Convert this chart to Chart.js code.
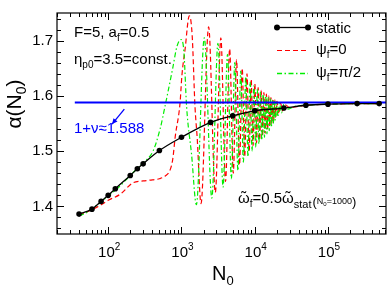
<!DOCTYPE html>
<html><head><meta charset="utf-8">
<script src="https://cdn.jsdelivr.net/npm/chart.js@4.4.1/dist/chart.umd.min.js"></script>
<style>html,body{margin:0;padding:0;background:#fff}#wrap{width:390px;height:290px;position:relative}</style>
</head><body><div id="wrap"><canvas id="c"></canvas></div>
<script>
// ---- data ----
const staticN = [40,60,80,100,125,200,250,300,500,1000,2500,5000,10000,25000,50000,100000,250000,500000];
const staticAlpha = [1.386,1.395,1.409,1.420,1.432,1.456,1.468,1.477,1.501,1.525,1.552,1.564,1.573,1.578,1.583,1.585,1.586,1.586];

const psi0N = [40,50,60,80,100,146,220,300,400,500,600,700,760,822,955,1016,1120,1280,1400,1530,1640,1850,
  2350,2900,3450,4000,4550,5100,5650,6200,6750,7300,7850,8400,8950,9500,10050,10600,11150,11700,12250,12800,
  13350,13900,14450,15000,15550,16100,16650,17200,17750,18300,18850,19400,20200,21200,22500,24000,26000,30000,
  40000,50000,100000,250000,500000];
const psi0Alpha = [1.385,1.389,1.394,1.403,1.411,1.422,1.443,1.446,1.448,1.450,1.455,1.466,1.485,1.526,1.586,1.638,1.684,1.745,1.710,1.581,1.524,1.405,
  1.725,1.425,1.705,1.445,1.685,1.460,1.665,1.475,1.650,1.490,1.640,1.500,1.630,1.510,1.622,1.515,1.615,1.520,1.610,1.527,
  1.606,1.532,1.603,1.538,1.600,1.545,1.597,1.550,1.595,1.556,1.593,1.562,1.590,1.567,1.587,1.573,1.584,1.579,
  1.581,1.583,1.585,1.586,1.586];

const psiHalfPiN = [40,50,60,80,100,130,200,250,300,409,513,596,760,870,986,1080,1175,1372,1600,
  2050,2600,3150,3700,4250,4800,5350,5900,6450,7000,7550,8100,8650,9200,9750,10300,10850,11400,11950,12500,
  13050,13600,14150,14700,15250,15800,16350,16900,17450,18000,18550,19100,19800,20700,21800,23200,25000,28000,
  35000,50000,100000,250000,500000];
const psiHalfPiAlpha = [1.383,1.388,1.395,1.408,1.419,1.431,1.456,1.469,1.479,1.500,1.541,1.581,1.650,1.690,1.702,1.680,1.581,1.495,1.403,
  1.705,1.415,1.695,1.435,1.675,1.450,1.660,1.465,1.645,1.480,1.635,1.490,1.625,1.500,1.618,1.507,1.612,1.513,1.607,1.520,
  1.603,1.525,1.600,1.531,1.597,1.537,1.595,1.543,1.593,1.550,1.591,1.556,1.589,1.562,1.587,1.569,1.585,1.576,
  1.581,1.583,1.585,1.586,1.586];

const limitN = [35, 620000];
const limitAlpha = [1.588, 1.588];

const xDecades = [100, 1000, 10000, 100000];
const xDecadeExp = ['2','3','4','5'];
const yTicks = [1.4, 1.5, 1.6, 1.7];
const xRange = [20, 620000];
const yRange = [1.35, 1.75];

// arrow (data coords): from -> to
const arrowFrom = [166, 1.576];
const arrowTo = [113, 1.549];

const FONT = "'Liberation Sans', Arial, sans-serif";
const pts = (xs, ys) => xs.map((v, i) => ({x: v, y: ys[i]}));

function runs(ctx, x, y, parts, color) {
  ctx.fillStyle = color || '#000';
  ctx.textBaseline = 'alphabetic';
  ctx.textAlign = 'left';
  let cx = x;
  for (const p of parts) {
    ctx.font = p[1] + 'px ' + FONT;
    ctx.fillText(p[0], cx, y + (p[2] || 0));
    cx += ctx.measureText(p[0]).width;
  }
  return cx;
}
function runsWidth(ctx, parts) {
  let w = 0;
  for (const p of parts) { ctx.font = p[1] + 'px ' + FONT; w += ctx.measureText(p[0]).width; }
  return w;
}
// omega with a tilde accent on top
function omegaTilde(ctx, x, y, size) {
  ctx.font = size + 'px ' + FONT;
  ctx.fillStyle = '#000';
  ctx.textAlign = 'left';
  ctx.textBaseline = 'alphabetic';
  const w = ctx.measureText('\u03c9').width;
  ctx.fillText('\u03c9', x, y);
  ctx.textAlign = 'center';
  ctx.fillText('\u02dc', x + w / 2, y - 1);
  ctx.textAlign = 'left';
  return x + w;
}

const framePlugin = {
  id: 'frame',
  afterDatasetsDraw(chart) {
    const {ctx, chartArea: a, scales: {x, y}} = chart;
    ctx.save();
    ctx.strokeStyle = '#000';
    ctx.lineWidth = 1.2;
    ctx.strokeRect(a.left, a.top, a.right - a.left, a.bottom - a.top);
    ctx.beginPath();
    ctx.lineWidth = 1;
    for (let e = 1; e <= 5; e++) for (let m = 1; m <= 9; m++) {
      const v = m * Math.pow(10, e);
      if (v < x.min || v > x.max) continue;
      const px = Math.round(x.getPixelForValue(v)) + 0.5;
      const L = m === 1 ? 7 : 4;
      ctx.moveTo(px, a.bottom); ctx.lineTo(px, a.bottom - L);
      ctx.moveTo(px, a.top); ctx.lineTo(px, a.top + L);
    }
    for (let k = 68; k <= 87; k++) {
      const v = k / 50;
      const py = Math.round(y.getPixelForValue(v)) + 0.5;
      const L = k % 5 === 0 ? 7 : 4;
      ctx.moveTo(a.left, py); ctx.lineTo(a.left + L, py);
      ctx.moveTo(a.right, py); ctx.lineTo(a.right - L, py);
    }
    ctx.stroke();

    // x tick labels 10^n
    xDecades.forEach((v, i) => {
      const parts = [['10', 15], [xDecadeExp[i], 10, -7]];
      const w = runsWidth(ctx, parts);
      runs(ctx, x.getPixelForValue(v) - w / 2 + 1, 257, parts);
    });

    // axis titles
    runs(ctx, 212, 280, [['N', 20], ['0', 13, 5]]);
    ctx.save();
    ctx.translate(21, 104);
    ctx.rotate(-Math.PI / 2);
    const tp = [['\u03b1(N', 21], ['0', 14, 5], [')', 21]];
    const tw = runsWidth(ctx, tp);
    runs(ctx, -tw / 2, 0, tp);
    ctx.restore();

    // annotations
    runs(ctx, 74, 37, [['F=5, a', 15], ['f', 10, 4], ['=0.5', 15]]);
    runs(ctx, 74, 64, [['\u03b7', 15], ['p0', 10, 4], ['=3.5=const.', 15]]);
    runs(ctx, 74, 133, [['1+\u03bd\u22481.588', 15]], '#0000ff');
    let ex = omegaTilde(ctx, 238, 203, 15);
    ex = runs(ctx, ex, 203, [['f', 10, 4], ['=0.5', 15]]);
    ex = omegaTilde(ctx, ex, 203, 15);
    ex = runs(ctx, ex, 203, [['stat', 11, 5]]);
    ex = runs(ctx, ex + 1, 206, [['(', 13]]);
    ex = runs(ctx, ex, 204, [['N', 9], ['0', 6, 2], ['=1000', 9]]);
    runs(ctx, ex, 206, [[')', 13]]);

    // arrow
    const ax0 = x.getPixelForValue(arrowFrom[0]), ay0 = y.getPixelForValue(arrowFrom[1]);
    const ax1 = x.getPixelForValue(arrowTo[0]), ay1 = y.getPixelForValue(arrowTo[1]);
    ctx.strokeStyle = '#0000ff'; ctx.fillStyle = '#0000ff'; ctx.lineWidth = 1.3;
    ctx.beginPath(); ctx.moveTo(ax0, ay0); ctx.lineTo(ax1, ay1); ctx.stroke();
    const ang = Math.atan2(ay1 - ay0, ax1 - ax0);
    ctx.beginPath();
    ctx.moveTo(ax1, ay1);
    ctx.lineTo(ax1 - 6 * Math.cos(ang - 0.45), ay1 - 6 * Math.sin(ang - 0.45));
    ctx.lineTo(ax1 - 6 * Math.cos(ang + 0.45), ay1 - 6 * Math.sin(ang + 0.45));
    ctx.closePath(); ctx.fill();

    // legend
    const lx0 = 277, lx1 = 308, tx = 316;
    ctx.lineWidth = 1.3; ctx.strokeStyle = '#000'; ctx.setLineDash([]);
    ctx.beginPath(); ctx.moveTo(lx0, 27.5); ctx.lineTo(lx1, 27.5); ctx.stroke();
    ctx.fillStyle = '#000';
    [lx0, lx1].forEach(px => { ctx.beginPath(); ctx.arc(px, 27.5, 3, 0, Math.PI * 2); ctx.fill(); });
    runs(ctx, tx, 33, [['static', 15]]);
    ctx.strokeStyle = '#ff0000'; ctx.lineWidth = 1.2; ctx.setLineDash([5, 3]);
    ctx.beginPath(); ctx.moveTo(lx0, 50.5); ctx.lineTo(lx1, 50.5); ctx.stroke();
    runs(ctx, tx, 54, [['\u03c8', 15], ['f', 10, 4], ['=0', 15]]);
    ctx.strokeStyle = '#00ee00'; ctx.lineWidth = 1.4; ctx.setLineDash([5, 2.5, 1.5, 2.5]);
    ctx.beginPath(); ctx.moveTo(lx0, 73.5); ctx.lineTo(lx1, 73.5); ctx.stroke();
    ctx.setLineDash([]);
    runs(ctx, tx, 77, [['\u03c8', 15], ['f', 10, 4], ['=\u03c0/2', 15]]);
    ctx.restore();
  }
};

new Chart(document.getElementById('c'), {
  type: 'line',
  data: {
    datasets: [
      {label: 'static', data: pts(staticN, staticAlpha), borderColor: '#000', backgroundColor: '#000',
       borderWidth: 1.3, pointRadius: 2.8, pointBorderWidth: 0, pointBackgroundColor: '#000',
       cubicInterpolationMode: 'monotone', order: 0},
      {label: '1+nu', data: pts(limitN, limitAlpha), borderColor: '#0000ff', borderWidth: 1.8, pointRadius: 0, order: 1},
      {label: 'psi=pi/2', data: pts(psiHalfPiN, psiHalfPiAlpha), borderColor: '#00ee00', borderWidth: 1.2,
       borderDash: [5, 2.5, 1.5, 2.5], pointRadius: 0, cubicInterpolationMode: 'monotone', order: 2},
      {label: 'psi=0', data: pts(psi0N, psi0Alpha), borderColor: '#ff0000', borderWidth: 1.2,
       borderDash: [5, 3], pointRadius: 0, cubicInterpolationMode: 'monotone', order: 3}
    ]
  },
  options: {
    responsive: true, maintainAspectRatio: false, animation: false, devicePixelRatio: 1,
    layout: {padding: {left: 0, right: 4, top: 2, bottom: 0}},
    plugins: {legend: {display: false}, tooltip: {enabled: false}},
    scales: {
      x: {type: 'logarithmic', min: xRange[0], max: xRange[1],
          grid: {display: false, drawTicks: false}, border: {display: false},
          ticks: {display: false}, afterFit(s) { s.height = 56; }},
      y: {type: 'linear', min: yRange[0], max: yRange[1],
          grid: {display: false, drawTicks: false}, border: {display: false},
          afterBuildTicks(s) { s.ticks = yTicks.map(v => ({value: v})); },
          ticks: {font: {family: FONT, size: 15}, color: '#000', padding: 4, callback: v => v.toFixed(1)},
          afterFit(s) { s.width = 57; }}
    }
  },
  plugins: [framePlugin]
});
</script>
</body></html>
